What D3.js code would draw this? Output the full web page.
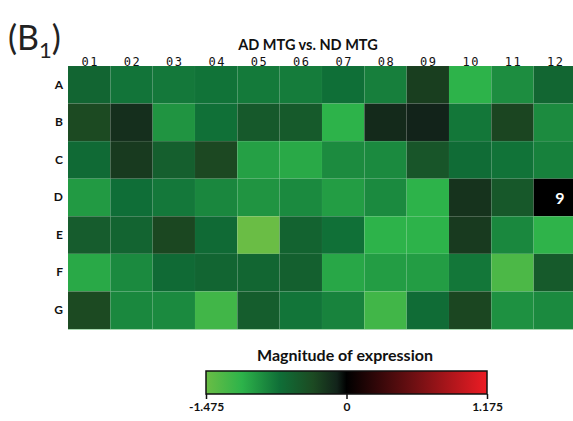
<!DOCTYPE html>
<html>
<head>
<meta charset="utf-8">
<script src="https://cdn.jsdelivr.net/npm/d3@7"></script>
<style>
  body { margin: 0; background: #fff; }
  svg { display: block; }
</style>
</head>
<body>
<div id="chart"></div>
<script>
// rows / columns of the heatmap
const rows = ['A', 'B', 'C', 'D', 'E', 'F', 'G'];
const cols = ['01', '02', '03', '04', '05', '06', '07', '08', '09', '10', '11', '12'];

// one array per row
const rowA = [-0.61, -0.735, -0.76, -0.73, -0.77, -0.78, -0.705, -0.80, -0.27, -1.10, -0.88, -0.62];
const rowB = [-0.35, -0.18, -0.92, -0.71, -0.50, -0.505, -1.10, -0.145, -0.10, -0.75, -0.32, -0.87];
const rowC = [-0.66, -0.25, -0.55, -0.34, -0.99, -1.04, -0.87, -0.86, -0.46, -0.68, -0.73, -0.81];
const rowD = [-0.955, -0.70, -0.76, -0.845, -0.92, -0.86, -0.97, -0.86, -1.10, -0.20, -0.49, 0];
const rowE = [-0.525, -0.60, -0.33, -0.66, -1.475, -0.59, -0.71, -1.10, -1.10, -0.25, -0.85, -1.11];
const rowF = [-1.04, -0.86, -0.66, -0.61, -0.62, -0.56, -1.03, -0.97, -0.97, -0.75, -1.29, -0.505];
const rowG = [-0.35, -0.85, -0.86, -1.22, -0.53, -0.74, -0.82, -1.22, -0.68, -0.325, -0.90, -0.86];
const values = [rowA, rowB, rowC, rowD, rowE, rowF, rowG];

// the one annotated cell
const notes = [{row: 'D', col: '12', text: '9'}];

const legendTicks = [-1.475, 0, 1.175];
const legendLabels = ['-1.475', '0', '1.175'];

const W = 573, H = 421;
const svg = d3.select('#chart').append('svg').attr('width', W).attr('height', H);

const x = d3.scaleBand().domain(cols).range([68, 576]);
const y = d3.scaleBand().domain(rows).range([66, 329]);

const color = d3.scaleLinear()
  .domain([-1.475, -1.1, -0.7, -0.35, -0.1, 0, 0.55, 1.175])
  .range(['#6abd45', '#2db34a', '#0f6e37', '#1c4a22', '#12231a', '#000000', '#6b0f12', '#ed1c24'])
  .clamp(true);

const cells = [];
values.forEach((r, i) => r.forEach((v, j) => cells.push({row: rows[i], col: cols[j], v: v})));

// panel label
const lab = svg.append('text').attr('x', 8).attr('y', 50)
  .attr('font-family', 'Lato, sans-serif').attr('font-size', 34).attr('fill', '#222');
lab.append('tspan').text('(B');
lab.append('tspan').attr('font-size', 22).attr('dy', 8).text('1');
lab.append('tspan').attr('dy', -8).text(')');

svg.append('text').attr('x', 308).attr('y', 50).attr('text-anchor', 'middle')
  .attr('font-family', 'Lato, sans-serif').attr('font-weight', 'bold').attr('font-size', 14.5)
  .attr('fill', '#111').text('AD MTG vs. ND MTG');

// heat cells
svg.append('g').selectAll('rect').data(cells).join('rect')
  .attr('x', d => x(d.col)).attr('y', d => y(d.row))
  .attr('width', x.bandwidth()).attr('height', y.bandwidth())
  .attr('fill', d => color(d.v))
  .attr('stroke', 'rgba(255,255,255,0.05)').attr('stroke-width', 0.6);

svg.append('line').attr('x1', 68).attr('x2', 576).attr('y1', 329.5).attr('y2', 329.5)
  .attr('stroke', '#a8d8b0').attr('stroke-width', 1);

svg.append('g').selectAll('text').data(notes).join('text')
  .attr('x', d => x(d.col) + x.bandwidth() / 2 + 5)
  .attr('y', d => y(d.row) + y.bandwidth() / 2 + 6)
  .attr('text-anchor', 'middle').attr('fill', '#fff')
  .attr('font-family', 'Lato, sans-serif').attr('font-weight', 'bold').attr('font-size', 16)
  .text(d => d.text);

// axes
const xAxis = svg.append('g').attr('transform', 'translate(0,66)')
  .call(d3.axisTop(x).tickSize(0).tickPadding(0.5));
xAxis.select('.domain').remove();
xAxis.selectAll('text').attr('font-family', 'DejaVu Sans Mono, monospace')
  .attr('font-size', 12).attr('letter-spacing', 1.5).attr('dx', 1).attr('fill', '#111');

const yAxis = svg.append('g').attr('transform', 'translate(67,0)')
  .call(d3.axisLeft(y).tickSize(0).tickPadding(4));
yAxis.select('.domain').remove();
yAxis.selectAll('text').attr('font-family', 'Lato, sans-serif').attr('font-weight', 'bold')
  .attr('font-size', 12).attr('fill', '#111');

// legend
const lx = d3.scaleLinear().domain([-1.475, 0, 1.175]).range([206, 346.5, 487]);
svg.append('text').attr('x', 345).attr('y', 361).attr('text-anchor', 'middle')
  .attr('font-family', 'Lato, sans-serif').attr('font-weight', 'bold').attr('font-size', 16)
  .attr('fill', '#111').text('Magnitude of expression');

const grad = svg.append('defs').append('linearGradient').attr('id', 'lg')
  .attr('x1', '0%').attr('x2', '100%');
color.domain().forEach(v => {
  grad.append('stop').attr('offset', ((lx(v) - 206) / (487 - 206) * 100) + '%')
    .attr('stop-color', color(v));
});

svg.append('rect').attr('x', 206).attr('y', 371).attr('width', 281).attr('height', 23)
  .attr('fill', 'url(#lg)').attr('stroke', '#111').attr('stroke-width', 1.5);

const lAxis = svg.append('g').attr('transform', 'translate(0,394)')
  .call(d3.axisBottom(lx).tickValues(legendTicks).tickSize(5)
    .tickFormat((d, i) => legendLabels[i]));
lAxis.select('.domain').remove();
lAxis.selectAll('line').attr('stroke', '#111').attr('stroke-width', 1.5);
lAxis.selectAll('text').attr('font-family', 'Lato, sans-serif').attr('font-weight', 'bold')
  .attr('font-size', 12).attr('fill', '#111').attr('dy', '0.75em');
</script>
</body>
</html>
